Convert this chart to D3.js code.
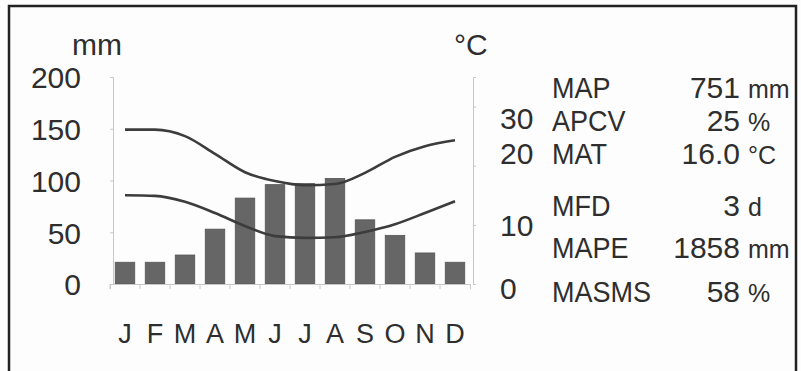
<!DOCTYPE html>
<html>
<head>
<meta charset="utf-8">
<script src="https://cdn.jsdelivr.net/npm/d3@7"></script>
<style>
    body { margin: 0; background: #fdfdfd; }
    text { font-family: "Liberation Sans", Arial, sans-serif; fill: #2e2e2e; }
</style>
</head>
<body>
<div id="canvas"></div>
<script>
"use strict"

/* chart data */
let months = ["J", "F", "M", "A", "M", "J", "J", "A", "S", "O", "N", "D"];
let rainfall = [21, 21, 28, 53, 83, 96, 97, 102, 62, 47, 30, 21];
let maxTemp = [26.1, 26.1, 25.0, 22.0, 18.9, 17.4, 16.7, 16.9, 18.8, 21.5, 23.3, 24.3];
let minTemp = [15.0, 14.9, 13.9, 12.0, 9.8, 8.1, 7.8, 7.9, 8.8, 10.1, 12.0, 14.0];
let rainTicks = [0, 50, 100, 150, 200];
let tempTicks = [0, 10, 20, 30];

let statNames = ["MAP", "APCV", "MAT", "MFD", "MAPE", "MASMS"];
let statValues = ["751", "25", "16.0", "3", "1858", "58"];
let statUnits = ["mm", "%", "°C", "d", "mm", "%"];

let drawing = d3.select("#canvas")
    .append("svg")
    .attr("width", 801)
    .attr("height", 371);

/* frame round the whole graph (runs off the bottom of the picture) */
let frame = drawing.append("rect")
    .attr("x", 9)
    .attr("y", 6)
    .attr("width", 787)
    .attr("height", 420)
    .attr("fill", "#fdfdfd")
    .attr("stroke", "#222")
    .attr("stroke-width", 2.5);

/* scales */
let x = d3.scaleBand()
    .domain(d3.range(months.length))
    .range([110, 470])
    .paddingInner(0.35)
    .paddingOuter(0.175);

let yRain = d3.scaleLinear()
    .domain([0, 200])
    .range([284, 77]);

let yTemp = d3.scaleLinear()
    .domain([0, 35])
    .range([284, 77]);

/* squeeze a text a little, the scanned labels are narrower than Liberation Sans */
function narrow(sel, k) {
    sel.each(function () {
        let w = this.getComputedTextLength();
        d3.select(this)
            .attr("textLength", w * k)
            .attr("lengthAdjust", "spacingAndGlyphs");
    });
}

/* rainfall bars */
let bars = drawing.append("g")
    .selectAll("rect")
    .data(rainfall)
    .join("rect")
    .attr("x", (d, i) => x(i))
    .attr("y", d => yRain(d))
    .attr("width", x.bandwidth())
    .attr("height", d => yRain(0) - yRain(d))
    .attr("fill", "#666")
    .attr("stroke", "#555")
    .attr("stroke-width", 0.8);

/* left axis, mm */
let leftAxis = drawing.append("g")
    .attr("transform", "translate(113,0)")
    .call(d3.axisLeft(yRain).tickValues(rainTicks).tickSize(3).tickPadding(29));

/* right axis, degrees */
let rightAxis = drawing.append("g")
    .attr("transform", "translate(473,0)")
    .call(d3.axisRight(yTemp).tickValues(tempTicks).tickSize(3).tickPadding(24));

/* bottom axis with ticks between the months */
let bottomAxis = drawing.append("g")
    .attr("transform", "translate(0,284)")
    .call(d3.axisBottom(x).tickSize(5).tickFormat((d, i) => months[i]).tickPadding(35));

bottomAxis.selectAll(".tick line")
    .attr("transform", "translate(" + (-x.step() / 2) + ",0)");

bottomAxis.selectAll(".tick text")
    .attr("font-size", 27);

drawing.selectAll(".domain, .tick line")
    .attr("stroke", "#c8c8c8");

leftAxis.selectAll(".tick text")
    .attr("font-size", 30)
    .attr("fill", "#3a3a3a")
    .attr("dy", "0.36em");

// the degree labels sit a bit off their ticks in the original
let tempLabelShift = { 0: 3, 10: 0, 20: -13, 30: 11 };
rightAxis.selectAll(".tick text")
    .attr("font-size", 30)
    .attr("fill", "#3a3a3a")
    .attr("dy", d => 11 + tempLabelShift[d]);

/* axis titles */
let mmLabel = drawing.append("text")
    .attr("x", 72)
    .attr("y", 55)
    .attr("font-size", 30)
    .text("mm");

let degLabel = drawing.append("text")
    .attr("x", 454)
    .attr("y", 55)
    .attr("font-size", 30)
    .text("°C");

/* temperature lines */
let tempLine = d3.line()
    .x((d, i) => x(i) + x.bandwidth() / 2)
    .y(d => yTemp(d))
    .curve(d3.curveMonotoneX);

let maxLine = drawing.append("path")
    .attr("d", tempLine(maxTemp))
    .attr("fill", "none")
    .attr("stroke", "#3c3c3c")
    .attr("stroke-width", 2.6);

let minLine = drawing.append("path")
    .attr("d", tempLine(minTemp))
    .attr("fill", "none")
    .attr("stroke", "#3c3c3c")
    .attr("stroke-width", 2.6);

/* summary statistics on the right */
let statBaselines = [98, 131, 164, 216, 258, 302];

let stats = drawing.append("g")
    .selectAll("g")
    .data(statNames)
    .join("g")
    .attr("transform", (d, i) => "translate(0," + statBaselines[i] + ")");

let statNameText = stats.append("text")
    .attr("x", 552)
    .attr("font-size", 30)
    .text(d => d);
narrow(statNameText, 0.9);

stats.append("text")
    .attr("x", 740)
    .attr("text-anchor", "end")
    .attr("font-size", 30)
    .text((d, i) => statValues[i]);

stats.append("text")
    .attr("x", 748)
    .attr("font-size", 25)
    .text((d, i) => statUnits[i]);
</script>
</body>
</html>
